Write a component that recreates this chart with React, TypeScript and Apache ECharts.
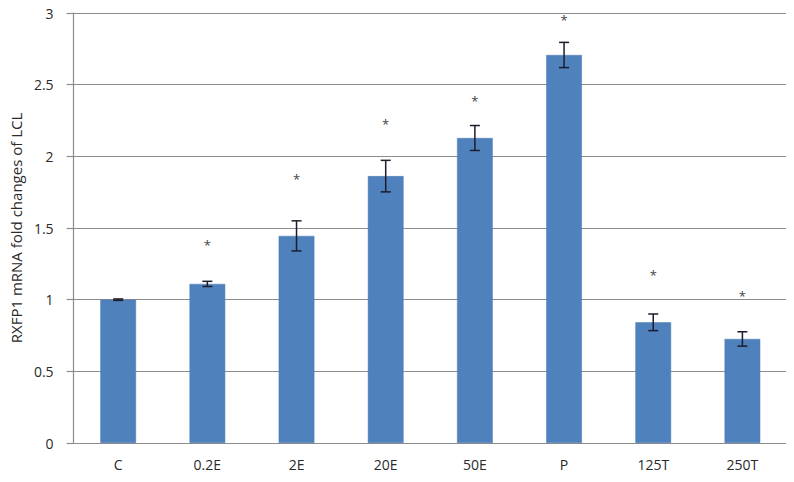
import React, { useEffect, useRef } from "react";
import * as echarts from "echarts";

const categories = ["C", "0.2E", "2E", "20E", "50E", "P", "125T", "250T"];
const values = [1.0, 1.11, 1.445, 1.862, 2.128, 2.707, 0.842, 0.726];
const errors = [0.005, 0.018, 0.105, 0.11, 0.087, 0.088, 0.058, 0.05];
// asterisk heights (value units), null = none
const starLevels: (number | null)[] = [null, 1.4, 1.865, 2.25, 2.41, 2.975, 1.19, 1.05];
const yTicks = { min: 0, max: 3, interval: 0.5 };

export default function App() {
  const ref = useRef<HTMLDivElement>(null);
  useEffect(() => {
    if (!ref.current) return;
    const chart = echarts.init(ref.current, null, { renderer: "svg" });
    const font = "'Open Sans', sans-serif";
    chart.setOption({
      animation: false,
      backgroundColor: "#ffffff",
      grid: { left: 70, right: 7, top: 13, bottom: 39 },
      xAxis: {
        type: "category",
        data: categories,
        axisLine: { lineStyle: { color: "#8c8c8c", width: 1.2 } },
        axisTick: { show: false },
        axisLabel: { color: "#2a2a2a", fontFamily: font, fontSize: 14, margin: 14 },
      },
      yAxis: {
        type: "value",
        min: yTicks.min,
        max: yTicks.max,
        interval: yTicks.interval,
        name: "RXFP1 mRNA fold changes of LCL",
        nameLocation: "middle",
        nameGap: 44,
        nameTextStyle: { color: "#2a2a2a", fontFamily: font, fontSize: 15 },
        axisLine: { show: true, lineStyle: { color: "#8c8c8c", width: 1.2 } },
        axisTick: { show: true, length: 7, inside: false, lineStyle: { color: "#8c8c8c", width: 1.2 } },
        axisLabel: { color: "#2a2a2a", fontFamily: font, fontSize: 14, margin: 20 },
        splitLine: { lineStyle: { color: "#8c8c8c", width: 1.2 } },
      },
      series: [
        {
          type: "bar",
          data: values,
          barWidth: "40%",
          itemStyle: { color: "#4F81BD", borderColor: "#4a7ab3", borderWidth: 0.5 },
        },
        {
          type: "custom",
          data: values.map((v, i) => [i, v - errors[i], v + errors[i]]),
          renderItem: (params: any, api: any) => {
            const i = api.value(0);
            const lo = api.coord([i, api.value(1)]);
            const hi = api.coord([i, api.value(2)]);
            const hw = 5;
            const st = { stroke: "#1c1c2c", lineWidth: 1.5 };
            return {
              type: "group",
              children: [
                { type: "line", shape: { x1: hi[0], y1: hi[1], x2: lo[0], y2: lo[1] }, style: st },
                { type: "line", shape: { x1: hi[0] - hw, y1: hi[1], x2: hi[0] + hw, y2: hi[1] }, style: st },
                { type: "line", shape: { x1: lo[0] - hw, y1: lo[1], x2: lo[0] + hw, y2: lo[1] }, style: st },
              ],
            };
          },
          z: 5,
        },
        {
          type: "custom",
          data: starLevels
            .map((s, i) => (s == null ? null : [i, s]))
            .filter((d) => d !== null),
          renderItem: (params: any, api: any) => {
            const p = api.coord([api.value(0), api.value(1)]);
            return {
              type: "text",
              style: {
                text: "*",
                x: p[0],
                y: p[1] + 3,
                align: "center",
                verticalAlign: "middle",
                fill: "#444",
                font: "13px 'Open Sans', sans-serif",
              },
            };
          },
          z: 6,
        },
      ],
    });
    return () => chart.dispose();
  }, []);
  return <div ref={ref} style={{ width: 794, height: 482, margin: -8 }} />;
}
